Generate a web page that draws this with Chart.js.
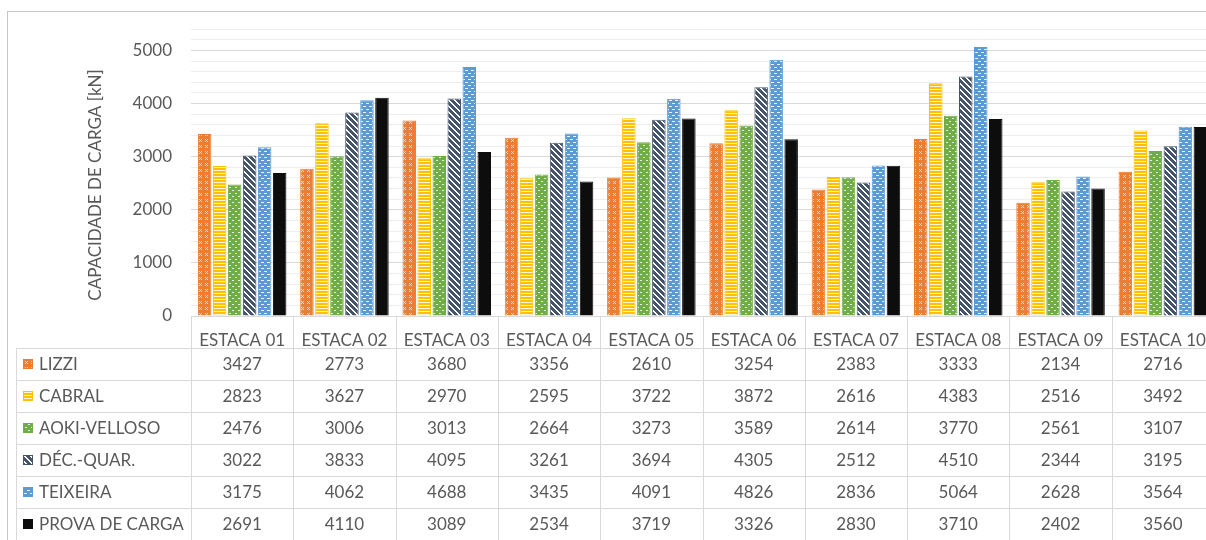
<!DOCTYPE html>
<html>
<head>
<meta charset="utf-8">
<script src="https://cdn.jsdelivr.net/npm/chart.js@4/dist/chart.umd.min.js"></script>
<style>
  html, body { margin: 0; padding: 0; background: #fff; overflow: hidden; }
  #wrap { width: 1206px; height: 540px; overflow: hidden; }
</style>
</head>
<body>
<div id="wrap"><canvas id="chart" width="1214" height="540"></canvas></div>
<script>
// data
const categories = ['ESTACA 01', 'ESTACA 02', 'ESTACA 03', 'ESTACA 04', 'ESTACA 05',
                    'ESTACA 06', 'ESTACA 07', 'ESTACA 08', 'ESTACA 09', 'ESTACA 10'];
const seriesNames = ['LIZZI', 'CABRAL', 'AOKI-VELLOSO', 'DÉC.-QUAR.', 'TEIXEIRA', 'PROVA DE CARGA'];
const lizzi       = [3427, 2773, 3680, 3356, 2610, 3254, 2383, 3333, 2134, 2716];
const cabral      = [2823, 3627, 2970, 2595, 3722, 3872, 2616, 4383, 2516, 3492];
const aokiVelloso = [2476, 3006, 3013, 2664, 3273, 3589, 2614, 3770, 2561, 3107];
const decQuar     = [3022, 3833, 4095, 3261, 3694, 4305, 2512, 4510, 2344, 3195];
const teixeira    = [3175, 4062, 4688, 3435, 4091, 4826, 2836, 5064, 2628, 3564];
const provaCarga  = [2691, 4110, 3089, 2534, 3719, 3326, 2830, 3710, 2402, 3560];
const yMax = 5400;
const yStep = 200;
const yLabelStep = 1000;
const yTitle = 'CAPACIDADE DE CARGA [kN]';

const textColor = '#595959';
const lineColor = '#d9d9d9';
const fontFamily = 'Lato, "Noto Sans", sans-serif';

// small tiles for the Excel-like pattern fills
function tile(w, h, base, paint) {
  const c = document.createElement('canvas');
  c.width = w; c.height = h;
  const g = c.getContext('2d');
  g.fillStyle = base;
  g.fillRect(0, 0, w, h);
  paint(g);
  return g.createPattern(c, 'repeat');
}

const baseColors = ['#ED7D31', '#FFC000', '#70AD47', '#44546A', '#5B9BD5', '#0D0D0D'];
const patterns = [
  tile(6, 6, '#ED7D31', g => {
    g.fillStyle = '#fbd6bd';
    [[1, 1], [3, 1], [2, 2], [1, 3], [3, 3]].forEach(p => g.fillRect(p[0], p[1], 1, 1));
  }),
  tile(3, 3, '#FFC000', g => {
    g.fillStyle = '#fff5d6';
    g.fillRect(0, 2, 3, 1);
  }),
  tile(6, 6, '#70AD47', g => {
    g.fillStyle = '#e4f0dc';
    g.fillRect(1, 1, 2, 1); g.fillRect(4, 4, 2, 1);
  }),
  tile(6, 6, '#44546A', g => {
    g.fillStyle = '#ffffff';
    for (let y = 0; y < 6; y++) for (let x = 0; x < 6; x++) if (((x - y) % 6 + 6) % 6 < 2) g.fillRect(x, y, 1, 1);
  }),
  tile(6, 6, '#5B9BD5', g => {
    g.fillStyle = '#eaf2fa';
    g.fillRect(0, 1, 3, 1); g.fillRect(3, 4, 3, 1);
  }),
  '#0D0D0D'
];

const seriesData = [lizzi, cabral, aokiVelloso, decQuar, teixeira, provaCarga];

const datasets = seriesNames.map((name, i) => ({
  label: name,
  data: seriesData[i],
  backgroundColor: patterns[i],
  borderColor: baseColors[i],
  borderWidth: 1,
  categoryPercentage: 0.88,
  barPercentage: 0.9
}));

// frame, axis title and the data table below the plot
const tablePlugin = {
  id: 'dataTable',
  beforeDraw(chart) {
    const ctx = chart.ctx;
    ctx.save();
    ctx.fillStyle = '#ffffff';
    ctx.fillRect(0, 0, chart.width, chart.height);
    ctx.strokeStyle = '#c8c8c8';
    ctx.lineWidth = 1;
    ctx.strokeRect(7.5, 11.5, chart.width + 20, chart.height + 20);
    ctx.restore();
  },
  afterDraw(chart) {
    const ctx = chart.ctx;
    const area = chart.chartArea;
    const xScale = chart.scales.x;
    const colW = (area.right - area.left) / categories.length;
    const rowH = 32;
    const headTop = area.bottom;
    const tableTop = headTop + rowH;
    const tableLeft = 16;
    const nRows = seriesNames.length;
    const tableBottom = tableTop + nRows * rowH;

    ctx.save();
    ctx.strokeStyle = lineColor;
    ctx.lineWidth = 1;
    ctx.beginPath();
    ctx.moveTo(area.left, headTop + 0.5);
    ctx.lineTo(chart.width, headTop + 0.5);
    for (let r = 0; r <= nRows; r++) {
      const y = Math.round(tableTop + r * rowH) + 0.5;
      ctx.moveTo(tableLeft, y);
      ctx.lineTo(chart.width, y);
    }
    for (let c = 0; c <= categories.length; c++) {
      const x = Math.round(area.left + c * colW) + 0.5;
      ctx.moveTo(x, headTop);
      ctx.lineTo(x, tableBottom);
    }
    ctx.moveTo(tableLeft + 0.5, tableTop);
    ctx.lineTo(tableLeft + 0.5, tableBottom);
    ctx.stroke();

    ctx.font = '17px ' + fontFamily;
    ctx.fillStyle = textColor;
    ctx.textBaseline = 'middle';
    chart.data.datasets.forEach((ds, r) => {
      const yc = tableTop + r * rowH + rowH / 2;
      // legend key
      ctx.fillStyle = ds.backgroundColor;
      ctx.fillRect(23, Math.round(yc) - 5, 10, 10);
      ctx.strokeStyle = ds.borderColor;
      ctx.strokeRect(23.5, Math.round(yc) - 4.5, 9, 9);
      ctx.fillStyle = textColor;
      ctx.textAlign = 'left';
      ctx.fillText(ds.label, 39, yc + 1);
      ctx.textAlign = 'center';
      ds.data.forEach((v, c) => {
        ctx.fillText(String(v), xScale.getPixelForValue(c), yc + 1);
      });
    });

    // y axis title
    ctx.translate(96, 185);
    ctx.rotate(-Math.PI / 2);
    ctx.textAlign = 'center';
    ctx.font = '17px ' + fontFamily;
    ctx.fillText(yTitle, 0, 0);
    ctx.restore();
  }
};

new Chart(document.getElementById('chart'), {
  type: 'bar',
  data: { labels: categories, datasets: datasets },
  plugins: [tablePlugin],
  options: {
    responsive: false,
    animation: false,
    devicePixelRatio: 1,
    layout: { padding: { left: 82, top: 28, right: 0, bottom: 192 } },
    plugins: { legend: { display: false }, tooltip: { enabled: false } },
    scales: {
      x: {
        grid: { display: false },
        border: { display: false },
        ticks: { color: textColor, font: { family: fontFamily, size: 17 }, padding: 6, maxRotation: 0, autoSkip: false },
        afterFit: s => { s.height = 32; }
      },
      y: {
        min: 0,
        max: yMax,
        border: { display: false },
        grid: {
          drawTicks: false,
          color: c => (c.tick && c.tick.value % yLabelStep === 0) ? '#d9d9d9' : '#eeeeee'
        },
        ticks: {
          stepSize: yStep,
          autoSkip: false,
          padding: 19,
          color: textColor,
          font: { family: fontFamily, size: 17 },
          callback: v => (v % yLabelStep === 0 ? String(v) : '')
        },
        afterFit: s => { s.width = 109; }
      }
    }
  }
});
</script>
</body>
</html>
